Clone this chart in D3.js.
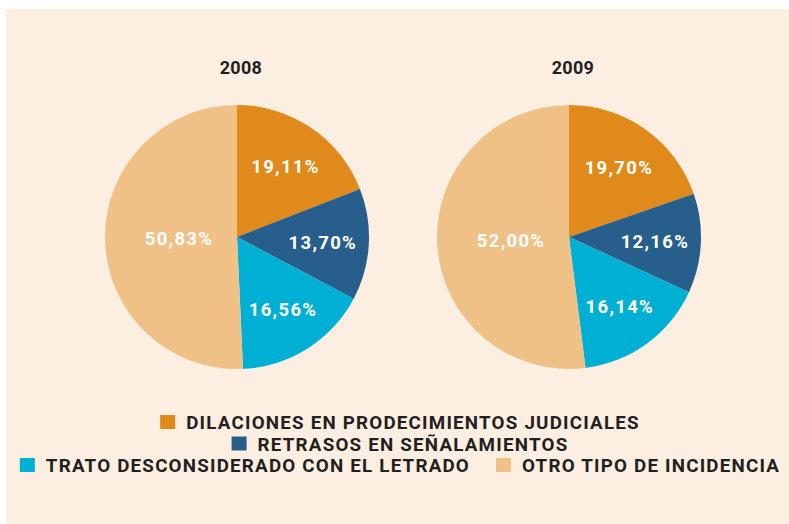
<!DOCTYPE html>
<html><head><meta charset="utf-8">
<script src="https://cdn.jsdelivr.net/npm/d3@7"></script>
<style>
html,body{margin:0;padding:0;background:#fff;}
svg{display:block;}
</style></head>
<body>
<svg id="chart" width="789" height="524"></svg>
<script>
const categories = ["DILACIONES EN PRODECIMIENTOS JUDICIALES","RETRASOS EN SEÑALAMIENTOS","TRATO DESCONSIDERADO CON EL LETRADO","OTRO TIPO DE INCIDENCIA"];
const years = ["2008","2009"];
const values2008 = [19.11, 13.70, 16.56, 50.83];
const values2009 = [19.70, 12.16, 16.14, 52.00];
const colors = ["#E08A1B","#285E8C","#00B0D4","#F0C186"];

const svg = d3.select("#chart");
svg.append("rect").attr("x",6).attr("y",9).attr("width",783).attr("height",515).attr("fill","#FCEFE2");

const r = 132;
const centersX = d3.scalePoint().domain(years).range([237,569]);
const cy = 237;
const pie = d3.pie().sort(null).value(d=>d);
const arc = d3.arc().innerRadius(0).outerRadius(r);
const fmt = v => d3.format(".2f")(v).replace(".",",") + "%";

[values2008, values2009].forEach((vals,i)=>{
  const yr = years[i];
  const g = svg.append("g").attr("transform",`translate(${centersX(yr)},${cy})`);
  const arcs = pie(vals);
  g.selectAll("path").data(arcs).enter().append("path")
    .attr("d",arc).attr("fill",(d,j)=>colors[j]);
  g.selectAll("text.lbl").data(arcs).enter().append("text")
    .attr("class","lbl")
    .attr("transform",d=>{
      const big = d.data > 40;
      const rr = big ? 58 : 86;
      const a = (d.startAngle+d.endAngle)/2;
      return `translate(${Math.sin(a)*rr},${-Math.cos(a)*rr})`;
    })
    .attr("text-anchor","middle").attr("dy","0.36em")
    .attr("fill","#fff").attr("font-family","Roboto, 'DejaVu Sans', sans-serif")
    .attr("font-weight","bold").attr("font-size",18.5).attr("letter-spacing",1.3)
    .text(d=>fmt(d.data));
  svg.append("text").attr("x",centersX(yr)+4).attr("y",74)
    .attr("text-anchor","middle").attr("fill","#231F20")
    .attr("font-family","Roboto, 'DejaVu Sans', sans-serif").attr("font-weight","bold")
    .attr("font-size",18).attr("letter-spacing",0.3).text(yr);
});

// legend
const rows = [[0],[1],[2,3]];
const rowY = d3.scalePoint().domain([0,1,2]).range([429,472]);
const sq = 15, gapSq = 11, gapItem = 26;
rows.forEach((row,ri)=>{
  const g = svg.append("g");
  let x = 0;
  row.forEach((ci,k)=>{
    if(k>0) x += gapItem;
    g.append("rect").attr("x",x).attr("y",rowY(ri)-14).attr("width",sq).attr("height",14).attr("fill",colors[ci]);
    x += sq + gapSq;
    const t = g.append("text").attr("x",x).attr("y",rowY(ri))
      .attr("fill","#231F20").attr("font-family","Roboto, 'DejaVu Sans', sans-serif")
      .attr("font-weight","bold").attr("font-size",18.8).attr("letter-spacing",1.2)
      .text(categories[ci]);
    x += t.node().getComputedTextLength();
  });
  g.attr("transform",`translate(${400 - x/2},0)`);
});
</script>
</body></html>
